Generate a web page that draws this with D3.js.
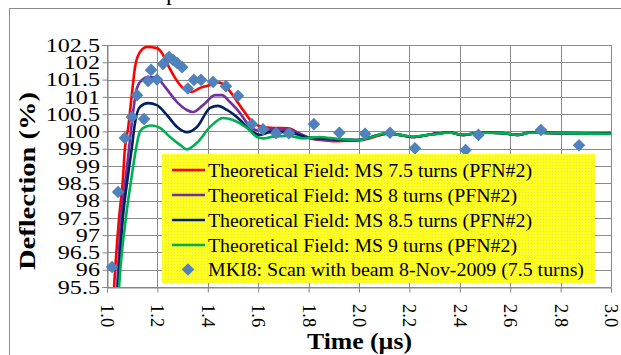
<!DOCTYPE html>
<html><head><meta charset="utf-8">
<script src="https://cdn.jsdelivr.net/npm/d3@7"></script>
<style>html,body{margin:0;padding:0;background:#fff;overflow:hidden}</style>
</head><body><svg id="c" width="621" height="355"></svg>
<script>
// ---- data (time µs, deflection %) ----
const xTicks = [1.0, 1.2, 1.4, 1.6, 1.8, 2.0, 2.2, 2.4, 2.6, 2.8, 3.0];
const yTicks = [95.5, 96, 96.5, 97, 97.5, 98, 98.5, 99, 99.5, 100, 100.5, 101, 101.5, 102, 102.5];
const seriesNames = [
  "Theoretical Field: MS 7.5 turns (PFN#2)",
  "Theoretical Field: MS 8 turns (PFN#2)",
  "Theoretical Field: MS 8.5 turns (PFN#2)",
  "Theoretical Field: MS 9 turns (PFN#2)",
  "MKI8: Scan with beam 8-Nov-2009 (7.5 turns)"
];
const ms75 = [[1.024,95.0],[1.028,95.5],[1.048,97.5],[1.063,98.6],[1.071,99.5],[1.083,100.05],[1.099,101.1],[1.111,101.85],[1.131,102.3],[1.159,102.44],[1.198,102.41],[1.218,102.27],[1.242,101.92],[1.27,101.55],[1.31,101.2],[1.335,101.14],[1.37,101.26],[1.41,101.34],[1.44,101.42],[1.47,101.32],[1.49,101.14],[1.54,100.62],[1.58,100.24],[1.62,100.13],[1.66,100.1],[1.72,100.09],[1.76,99.95],[1.8,99.82],[1.85,99.75],[1.9,99.72],[1.95,99.73],[2.0,99.74],[2.05,99.82],[2.11,99.93],[2.16,99.9],[2.21,99.84],[2.29,99.92],[2.36,99.97],[2.41,99.9],[2.49,99.97],[2.57,99.95],[2.63,99.9],[2.68,99.97],[2.8,99.95],[3.0,99.94]];
const ms8 = [[1.036,95.0],[1.04,95.5],[1.056,97.5],[1.075,98.7],[1.091,99.75],[1.103,100.53],[1.119,101.26],[1.139,101.49],[1.163,101.57],[1.198,101.55],[1.23,101.29],[1.278,100.85],[1.317,100.62],[1.341,100.56],[1.381,100.76],[1.429,101.05],[1.456,101.05],[1.488,100.85],[1.528,100.53],[1.556,100.24],[1.58,100.06],[1.61,100.03],[1.66,100.06],[1.72,100.05],[1.76,99.95],[1.8,99.82],[1.85,99.76],[1.9,99.74],[1.95,99.75],[2.0,99.76],[2.05,99.84],[2.11,99.94],[2.16,99.9],[2.21,99.84],[2.29,99.92],[2.36,99.97],[2.41,99.9],[2.49,99.97],[2.57,99.95],[2.63,99.9],[2.68,99.97],[2.8,99.95],[3.0,99.94]];
const ms85 = [[1.04,95.0],[1.044,95.5],[1.063,97.5],[1.083,98.7],[1.099,99.55],[1.111,100.24],[1.131,100.71],[1.163,100.82],[1.198,100.76],[1.238,100.47],[1.278,100.13],[1.317,99.98],[1.357,100.13],[1.409,100.68],[1.44,100.74],[1.476,100.62],[1.528,100.33],[1.567,100.04],[1.607,99.9],[1.647,99.98],[1.72,99.99],[1.76,99.9],[1.8,99.82],[1.85,99.8],[1.9,99.77],[1.95,99.76],[2.0,99.75],[2.05,99.84],[2.11,99.94],[2.16,99.9],[2.21,99.84],[2.29,99.92],[2.36,99.97],[2.41,99.9],[2.49,99.97],[2.57,99.95],[2.63,99.9],[2.68,99.97],[2.8,99.95],[3.0,99.94]];
const ms9 = [[1.044,95.0],[1.048,95.5],[1.075,97.5],[1.098,98.7],[1.115,99.5],[1.131,100.0],[1.151,100.13],[1.179,100.17],[1.21,100.1],[1.25,99.84],[1.29,99.61],[1.317,99.48],[1.357,99.67],[1.409,100.13],[1.46,100.39],[1.5,100.33],[1.556,100.1],[1.595,99.84],[1.62,99.8],[1.66,99.85],[1.72,99.87],[1.78,99.8],[1.84,99.84],[1.92,99.78],[2.0,99.75],[2.05,99.84],[2.11,99.95],[2.16,99.9],[2.21,99.85],[2.29,99.91],[2.36,99.96],[2.41,99.91],[2.49,99.96],[2.57,99.95],[2.63,99.9],[2.68,99.96],[2.8,99.95],[3.0,99.93]];
const scanTime = [1.02,1.044,1.071,1.099,1.119,1.147,1.163,1.175,1.198,1.222,1.246,1.262,1.278,1.298,1.321,1.345,1.373,1.421,1.472,1.52,1.575,1.619,1.671,1.722,1.821,1.922,2.024,2.123,2.222,2.423,2.474,2.722,2.873];
const scanDefl = [96.08,98.25,99.81,100.42,101.05,100.36,101.46,101.78,101.5,101.95,102.15,102.07,101.98,101.86,101.24,101.49,101.49,101.43,101.31,101.03,100.21,100.06,99.95,99.95,100.21,99.96,99.93,99.96,99.51,99.46,99.9,100.04,99.6];

const lineSeries = [ms75, ms8, ms85, ms9];
const colors = ["#ff0000", "#7030a0", "#002060", "#00b050", "#4f81bd"];

// ---- layout ----
const svg = d3.select("#c");
const x = d3.scaleLinear().domain([1, 3]).range([107, 611]);
const y = d3.scaleLinear().domain([95.5, 102.5]).range([287, 45]);
const SERIF = "'Liberation Serif','Times New Roman',serif";
const gridCol = "#8a8a8a";

function stretch(sel, k) {
  sel.each(function () {
    const w = this.getComputedTextLength();
    d3.select(this).attr("textLength", w * k).attr("lengthAdjust", "spacingAndGlyphs");
  });
}
function fit(sel, w) {
  sel.attr("textLength", w).attr("lengthAdjust", "spacingAndGlyphs");
}

// outer border
svg.append("rect").attr("x", 9.5).attr("y", 8.5).attr("width", 700).attr("height", 500)
  .attr("fill", "#fff").attr("stroke", "#8c8c8c").attr("stroke-width", 1);

// partial title (only descender visible)
svg.append("text").attr("x", 166).attr("y", 0).attr("font-family", SERIF)
  .attr("font-size", 24).attr("fill", "#000").text("p");

// gridlines
const grid = svg.append("g");
grid.selectAll(".gx").data(xTicks).join("line")
  .attr("x1", d => Math.round(x(d)) + 0.5).attr("x2", d => Math.round(x(d)) + 0.5)
  .attr("y1", y(102.5)).attr("y2", y(95.5)).attr("stroke", gridCol).attr("stroke-width", 1);
grid.selectAll(".gy").data(yTicks).join("line")
  .attr("x1", x(1)).attr("x2", x(3))
  .attr("y1", d => Math.round(y(d)) + 0.5).attr("y2", d => Math.round(y(d)) + 0.5)
  .attr("stroke", gridCol).attr("stroke-width", 1);

// axes (tick marks)
const xAxis = svg.append("g").attr("transform", `translate(0,${Math.round(y(95.5)) + 0.5})`)
  .call(d3.axisBottom(x).tickValues(xTicks).tickSize(5).tickFormat(""));
const yAxis = svg.append("g").attr("transform", `translate(${Math.round(x(1)) + 0.5},0)`)
  .call(d3.axisLeft(y).tickValues(yTicks).tickSize(5).tickFormat(""));
[xAxis, yAxis].forEach(a => {
  a.selectAll("path,line").attr("stroke", "#858585").attr("stroke-width", 1);
});

// tick labels
const yl = svg.append("g").selectAll("text").data(yTicks).join("text")
  .attr("x", 100).attr("y", d => y(d)).attr("dy", "0.35em")
  .attr("text-anchor", "end").attr("font-family", SERIF).attr("font-size", 19)
  .attr("fill", "#000").text(d => String(d));
stretch(yl, 1.27);

svg.append("g").selectAll("text").data(xTicks).join("text")
  .attr("transform", d => `translate(${x(d)},304) rotate(90)`)
  .attr("dominant-baseline", "central").attr("font-family", SERIF)
  .attr("font-size", 18.5).attr("fill", "#000").text(d => d3.format(".1f")(d));

// axis titles
const xt = svg.append("text").attr("x", 307).attr("y", 349).attr("font-family", SERIF)
  .attr("font-weight", "bold").attr("font-size", 24).attr("fill", "#000").text("Time (µs)");
fit(xt, 105);
const yt = svg.append("text").attr("transform", "translate(35,181) rotate(-90)")
  .attr("text-anchor", "middle").attr("font-family", SERIF)
  .attr("font-weight", "bold").attr("font-size", 24).attr("fill", "#000").text("Deflection (%)");
fit(yt, 178);

// clip
svg.append("clipPath").attr("id", "plotclip").append("rect")
  .attr("x", x(1)).attr("y", y(102.5) - 5).attr("width", x(3) - x(1) + 6).attr("height", y(95.5) - y(102.5) + 5);

// lines
const line = d3.line().x(d => x(d[0])).y(d => y(d[1])).curve(d3.curveMonotoneX);
const lg = svg.append("g").attr("clip-path", "url(#plotclip)");
lineSeries.forEach((s, i) => {
  lg.append("path").datum(s).attr("d", line).attr("fill", "none")
    .attr("stroke", colors[i]).attr("stroke-width", 2.6).attr("stroke-linejoin", "round");
});

// scan diamonds
const diamond = r => `M0,${-r}L${r},0L0,${r}L${-r},0Z`;
svg.append("g").selectAll("path").data(scanTime.map((t, i) => [t, scanDefl[i]])).join("path")
  .attr("transform", d => `translate(${x(d[0])},${y(d[1])})`)
  .attr("d", diamond(6.3)).attr("fill", colors[4]);

// legend
const defs = svg.append("defs");
const pat = defs.append("pattern").attr("id", "yel").attr("width", 3).attr("height", 3)
  .attr("patternUnits", "userSpaceOnUse");
pat.append("rect").attr("width", 3).attr("height", 3).attr("fill", "#ffff1a");
pat.append("rect").attr("width", 1).attr("height", 1).attr("fill", "#e2e27a");
svg.append("rect").attr("x", 162).attr("y", 154).attr("width", 433).attr("height", 129)
  .attr("fill", "url(#yel)");
const rowY = [170, 195, 220, 245, 269.5];
const textW = [324, 309, 324, 309, 376];
seriesNames.forEach((name, i) => {
  if (i < 4) {
    svg.append("line").attr("x1", 172).attr("x2", 205).attr("y1", rowY[i]).attr("y2", rowY[i])
      .attr("stroke", colors[i]).attr("stroke-width", 2.6);
  } else {
    svg.append("path").attr("transform", `translate(188,${rowY[i]})`)
      .attr("d", diamond(6.3)).attr("fill", colors[4]);
  }
  const t = svg.append("text").attr("x", 208).attr("y", rowY[i] + 6.5)
    .attr("font-family", SERIF).attr("font-size", 18).attr("fill", "#000").text(name);
  fit(t, textW[i]);
});
</script></body></html>
